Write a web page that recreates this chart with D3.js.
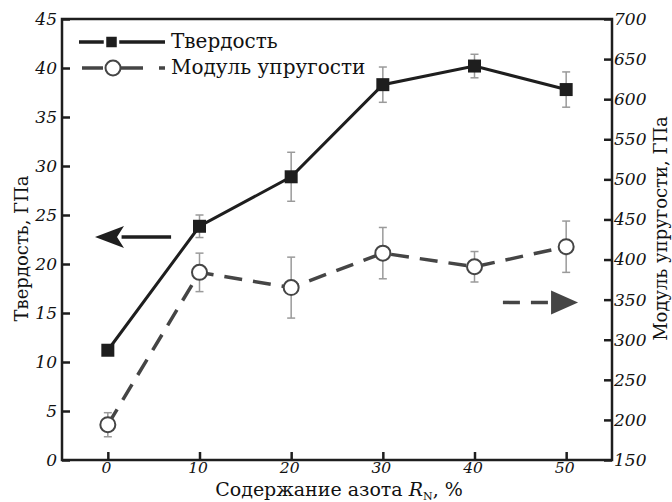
<!DOCTYPE html>
<html>
<head>
<meta charset="utf-8">
<script src="https://cdn.jsdelivr.net/npm/d3@7"></script>
<style>
  body { margin: 0; background: #fff; }
  svg { display: block; }
  text { font-family: "DejaVu Serif", serif; fill: #111; }
</style>
</head>
<body>
<div id="chart"></div>
<script>
const nitrogen = [0, 10, 20, 30, 40, 50];
const hardness = [11.2, 23.85, 28.9, 38.3, 40.2, 37.8];
const hardnessErr = [0, 1.15, 2.5, 1.8, 1.2, 1.8];
const modulus = [194, 384, 365, 408, 391, 416];
const modulusErr = [15, 24, 38, 32, 19, 32];
const xTicks = [0, 10, 20, 30, 40, 50];
const leftTicks = [0, 5, 10, 15, 20, 25, 30, 35, 40, 45];
const rightTicks = [150, 200, 250, 300, 350, 400, 450, 500, 550, 600, 650, 700];

const W = 672, H = 502;
const margin = { left: 62, right: 60, top: 19, bottom: 42 };

const svg = d3.select('#chart').append('svg')
  .attr('width', W)
  .attr('height', H);

const x = d3.scaleLinear().domain([-5, 55]).range([margin.left, W - margin.right]);
const yL = d3.scaleLinear().domain([0, 45]).range([H - margin.bottom, margin.top]);
const yR = d3.scaleLinear().domain([150, 700]).range([H - margin.bottom, margin.top]);

const dark = '#1e1e1e';
const grey = '#454545';
const barCol = '#9a9a9a';

// error bars
function errorBars(vals, errs, y) {
  const g = svg.append('g').attr('stroke', barCol).attr('stroke-width', 1.5);
  vals.forEach((v, i) => {
    if (!errs[i]) return;
    const cx = x(nitrogen[i]);
    g.append('line').attr('x1', cx).attr('x2', cx).attr('y1', y(v - errs[i])).attr('y2', y(v + errs[i]));
    [v - errs[i], v + errs[i]].forEach(e => {
      g.append('line').attr('x1', cx - 4).attr('x2', cx + 4).attr('y1', y(e)).attr('y2', y(e));
    });
  });
}
errorBars(hardness, hardnessErr, yL);
errorBars(modulus, modulusErr, yR);

// lines
svg.append('path')
  .datum(nitrogen.map((n, i) => [n, modulus[i]]))
  .attr('fill', 'none')
  .attr('stroke', grey)
  .attr('stroke-width', 3.5)
  .attr('stroke-dasharray', '18,11')
  .attr('d', d3.line().x(d => x(d[0])).y(d => yR(d[1])));

svg.append('path')
  .datum(nitrogen.map((n, i) => [n, hardness[i]]))
  .attr('fill', 'none')
  .attr('stroke', dark)
  .attr('stroke-width', 3)
  .attr('d', d3.line().x(d => x(d[0])).y(d => yL(d[1])));

// markers
svg.selectAll('.circ').data(modulus).enter().append('circle')
  .attr('cx', (d, i) => x(nitrogen[i]))
  .attr('cy', d => yR(d))
  .attr('r', 7.5)
  .attr('fill', '#fff')
  .attr('stroke', grey)
  .attr('stroke-width', 2);

svg.selectAll('.sq').data(hardness).enter().append('rect')
  .attr('x', (d, i) => x(nitrogen[i]) - 6.5)
  .attr('y', d => yL(d) - 6.5)
  .attr('width', 13)
  .attr('height', 13)
  .attr('fill', dark);

// arrows pointing to the axes
const ay = yL(22.75);
svg.append('line')
  .attr('x1', x(6.9)).attr('x2', x(1.5)).attr('y1', ay).attr('y2', ay)
  .attr('stroke', dark).attr('stroke-width', 3.5);
const tipL = x(-1.4);
svg.append('path')
  .attr('d', `M${tipL},${ay} L${tipL + 29},${ay - 11} L${tipL + 22},${ay} L${tipL + 29},${ay + 11} Z`)
  .attr('fill', dark);

const by = yR(346.5);
svg.append('line')
  .attr('x1', x(43.1)).attr('x2', x(48.6)).attr('y1', by).attr('y2', by)
  .attr('stroke', grey).attr('stroke-width', 3.5).attr('stroke-dasharray', '17,11');
const tipR = x(51.3);
svg.append('path')
  .attr('d', `M${tipR},${by} L${tipR - 27},${by - 12} L${tipR - 27},${by + 12} Z`)
  .attr('fill', grey);

// frame and axes
svg.append('rect')
  .attr('x', margin.left).attr('y', margin.top)
  .attr('width', W - margin.left - margin.right)
  .attr('height', H - margin.top - margin.bottom)
  .attr('fill', 'none').attr('stroke', dark).attr('stroke-width', 2.5);

const tickLen = 8;
const xAxis = svg.append('g')
  .attr('transform', `translate(0,${H - margin.bottom})`)
  .call(d3.axisBottom(x).tickValues(xTicks).tickSize(-tickLen).tickPadding(5).tickFormat(d3.format('d')));
const lAxis = svg.append('g')
  .attr('transform', `translate(${margin.left},0)`)
  .call(d3.axisLeft(yL).tickValues(leftTicks).tickSize(-tickLen).tickPadding(14).tickFormat(d3.format('d')));
const rAxis = svg.append('g')
  .attr('transform', `translate(${W - margin.right},0)`)
  .call(d3.axisRight(yR).tickValues(rightTicks).tickSize(-tickLen).tickPadding(12).tickFormat(d3.format('d')));

[xAxis, lAxis, rAxis].forEach(a => {
  a.select('.domain').remove();
  a.selectAll('.tick line').attr('stroke', dark).attr('stroke-width', 2.5);
  a.selectAll('.tick text')
    .attr('font-family', '"DejaVu Serif", serif')
    .attr('font-style', 'italic')
    .attr('font-size', 17)
    .attr('fill', '#111');
});
lAxis.selectAll('.tick text').attr('x', -5);
rAxis.selectAll('.tick text').attr('x', 2);
xAxis.selectAll('.tick text').attr('font-size', 15.5).attr('y', 13).attr('dy', 0).attr('x', -2);

// axis titles
svg.append('text')
  .attr('transform', `translate(28,${(yL(0) + yL(45)) / 2 + 9}) rotate(-90)`)
  .attr('text-anchor', 'middle')
  .attr('font-size', 18)
  .text('Твердость, ГПа');

svg.append('text')
  .attr('transform', `translate(667,${(yR(150) + yR(700)) / 2 - 11}) rotate(-90)`)
  .attr('text-anchor', 'middle')
  .attr('font-size', 18)
  .text('Модуль упругости, ГПа');

const xt = svg.append('text')
  .attr('x', (x(-5) + x(55)) / 2 + 2)
  .attr('y', 496)
  .attr('text-anchor', 'middle')
  .attr('font-size', 19);
xt.append('tspan').text('Содержание азота ');
xt.append('tspan').attr('font-style', 'italic').text('R');
xt.append('tspan').attr('font-size', 11).attr('dy', 4).text('N');
xt.append('tspan').attr('dy', -4).text(', %');

// legend
const legend = [
  { name: 'Твердость', color: dark, dash: null, mark: 'square', x1: 79 },
  { name: 'Модуль упругости', color: grey, dash: '21,17,23,16,6', mark: 'circle', x1: 82 }
];
legend.forEach((l, i) => {
  const ly = 42 + i * 26;
  svg.append('line')
    .attr('x1', l.x1).attr('x2', 165).attr('y1', ly).attr('y2', ly)
    .attr('stroke', l.color).attr('stroke-width', 3.5)
    .attr('stroke-dasharray', l.dash);
  if (l.mark === 'square') {
    svg.append('rect').attr('x', 105).attr('y', ly - 6.5).attr('width', 13).attr('height', 13)
      .attr('fill', l.color).attr('stroke', '#fff').attr('stroke-width', 2.5);
  } else {
    svg.append('circle').attr('cx', 113).attr('cy', ly).attr('r', 7.5)
      .attr('fill', '#fff').attr('stroke', l.color).attr('stroke-width', 2);
  }
  svg.append('text')
    .attr('x', 171).attr('y', ly + 6)
    .attr('font-size', 20)
    .text(l.name);
});
</script>
</body>
</html>
